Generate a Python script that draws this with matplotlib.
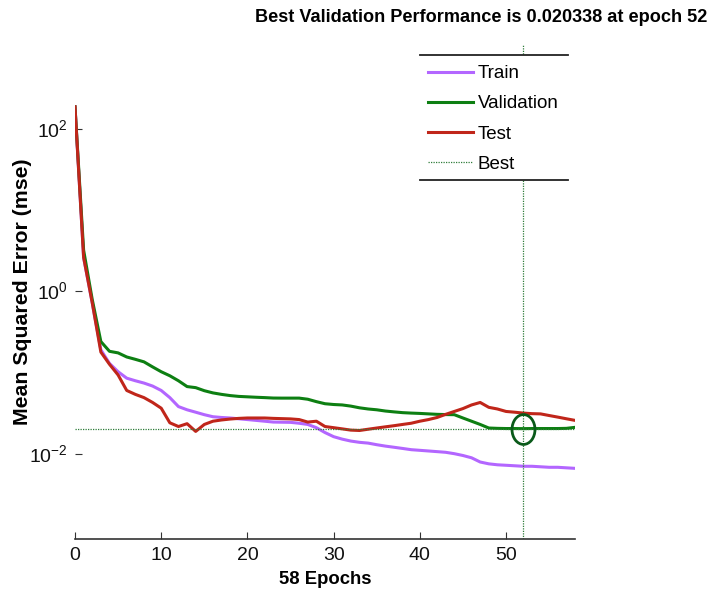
import numpy as np
import matplotlib
matplotlib.use("Agg")
import matplotlib.pyplot as plt
from matplotlib.path import Path
from matplotlib.lines import Line2D
from matplotlib.patches import Rectangle

plt.rcParams['font.family'] = ['Liberation Sans', 'DejaVu Sans']
plt.rcParams['mathtext.fontset'] = 'custom'
plt.rcParams['mathtext.rm'] = 'Liberation Sans'

epochs = list(range(59))

train = [186, 2.6, 0.72, 0.19, 0.129, 0.102, 0.085, 0.079, 0.074, 0.068,
         0.060, 0.049, 0.038, 0.0347, 0.0324, 0.0302, 0.0285, 0.0279, 0.0275, 0.0269,
         0.0263, 0.0257, 0.0251, 0.0245, 0.0244, 0.0243, 0.0237, 0.0229, 0.0209, 0.0182,
         0.0162, 0.0151, 0.0143, 0.0138, 0.0135, 0.0129, 0.0124, 0.0120, 0.0116, 0.0112,
         0.0110, 0.0108, 0.0106, 0.0104, 0.0100, 0.0095, 0.0089, 0.0079, 0.0075, 0.0073,
         0.0072, 0.0071, 0.0070, 0.0070, 0.0069, 0.0068, 0.0068, 0.0067, 0.0066]

validation = [186, 3.2, 0.79, 0.24, 0.182, 0.174, 0.155, 0.145, 0.135, 0.117,
              0.102, 0.091, 0.079, 0.067, 0.065, 0.0596, 0.056, 0.0537, 0.0519, 0.0507,
              0.0501, 0.0495, 0.049, 0.0484, 0.0483, 0.0483, 0.0483, 0.0468, 0.0437, 0.0412,
              0.0403, 0.0398, 0.0385, 0.0367, 0.0355, 0.0347, 0.0335, 0.0327, 0.0320, 0.0316,
              0.0313, 0.0309, 0.0305, 0.0303, 0.0302, 0.0275, 0.0251, 0.0229, 0.0207, 0.0205,
              0.0204, 0.0204, 0.020338, 0.0204, 0.0204, 0.0204, 0.0204, 0.0205, 0.0211]

test = [186, 2.6, 0.72, 0.178, 0.126, 0.093, 0.060, 0.0537, 0.049, 0.0427,
        0.0363, 0.024, 0.0216, 0.0234, 0.0188, 0.0229, 0.0251, 0.026, 0.0267, 0.0272,
        0.0275, 0.0275, 0.0275, 0.0272, 0.027, 0.0268, 0.0263, 0.0245, 0.0251, 0.0216,
        0.0209, 0.0202, 0.0195, 0.0193, 0.0200, 0.0207, 0.0214, 0.0221, 0.0229, 0.0237,
        0.0251, 0.0263, 0.0279, 0.0305, 0.0331, 0.0359, 0.0398, 0.0427, 0.0372, 0.0355,
        0.0331, 0.0324, 0.0316, 0.0311, 0.0309, 0.0295, 0.0282, 0.0269, 0.0257]

best_epoch = 52
best_perf = 0.020338

series_labels = ["Train", "Validation", "Test", "Best"]
xtick_values = [0, 10, 20, 30, 40, 50]
ytick_values = [1e-2, 1e0, 1e2]
ytick_labels = [r"$10^{-2}$", r"$10^{0}$", r"$10^{2}$"]

c_train = "#b366ff"
c_val = "#0d7f12"
c_test = "#c0261a"
c_best = "#2f7d3a"

fig = plt.figure(figsize=(7.11, 5.98), dpi=100)
ax = fig.add_axes([75 / 711, 1 - 539 / 598, 500 / 711, 494 / 598])

l_train, = ax.plot(epochs, train, color=c_train, lw=2.2, solid_joinstyle='round')
l_val, = ax.plot(epochs, validation, color=c_val, lw=2.2, solid_joinstyle='round')
l_test, = ax.plot(epochs, test, color=c_test, lw=2.2, solid_joinstyle='round')
l_best = ax.axvline(best_epoch, color=c_best, lw=0.9, ls=(0, (1, 1)))
ax.axhline(best_perf, color=c_best, lw=0.9, ls=(0, (1, 1)))

# elliptical marker around the best validation point
circ = Path.unit_circle()
ell = Path(circ.vertices * np.array([0.77, 1.0]), circ.codes)
ax.plot([best_epoch], [best_perf], marker=ell, markersize=21.5,
        markerfacecolor='none', markeredgecolor='#0a5a1a', markeredgewidth=2.0)

ax.set_yscale('log')
ax.set_xlim(0, 58)
ax.set_ylim(10 ** -3.05, 10 ** 3.03)
ax.set_xticks(xtick_values)
ax.set_xticklabels([str(v) for v in xtick_values])
ax.set_yticks(ytick_values)
ax.set_yticklabels(ytick_labels)
ax.yaxis.set_minor_locator(matplotlib.ticker.NullLocator())
ax.tick_params(axis='both', direction='in', length=5, width=0.8, color='#333333',
               labelsize=14, labelcolor='#111111')
ax.tick_params(axis='x', pad=6)
ax.tick_params(axis='y', pad=5)

for s in ['top', 'right', 'left']:
    ax.spines[s].set_visible(False)
ax.spines['bottom'].set_color('#333333')
ax.spines['bottom'].set_linewidth(1.2)

ax.set_xlabel("58 Epochs", fontsize=13.3, fontweight='bold', labelpad=5)
ax.set_ylabel("Mean Squared Error (mse)", fontsize=15.3, fontweight='bold')
ax.yaxis.set_label_coords(-0.086, 0.5)

# title squeezed to span the header width
title = fig.text(481 / 711, 1 - 17 / 598, "Best Validation Performance is 0.020338 at epoch 52",
                 ha='center', va='center', fontsize=15, fontweight='bold')
renderer = fig.canvas.get_renderer()
w = title.get_window_extent(renderer).width
title.set_fontsize(15 * 452 / w)

# legend panel: white background with top and bottom rules
fig.add_artist(Rectangle((420 / 711, 1 - 180 / 598), 148 / 711, 125 / 598,
                         transform=fig.transFigure, facecolor='white',
                         edgecolor='none', zorder=3))
for yy in (55, 180):
    fig.add_artist(Line2D([420 / 711, 568 / 711], [1 - yy / 598, 1 - yy / 598],
                          transform=fig.transFigure, color='#222222', lw=1.3, zorder=4))

fig.legend([l_train, l_val, l_test, l_best], series_labels,
           loc='upper left', bbox_to_anchor=(428 / 711, 1 - 65 / 598),
           frameon=False, fontsize=13.5, handlelength=2.4, handletextpad=0.25,
           borderpad=0, borderaxespad=0, labelspacing=0.7)

fig.savefig("out.png", dpi=100)
